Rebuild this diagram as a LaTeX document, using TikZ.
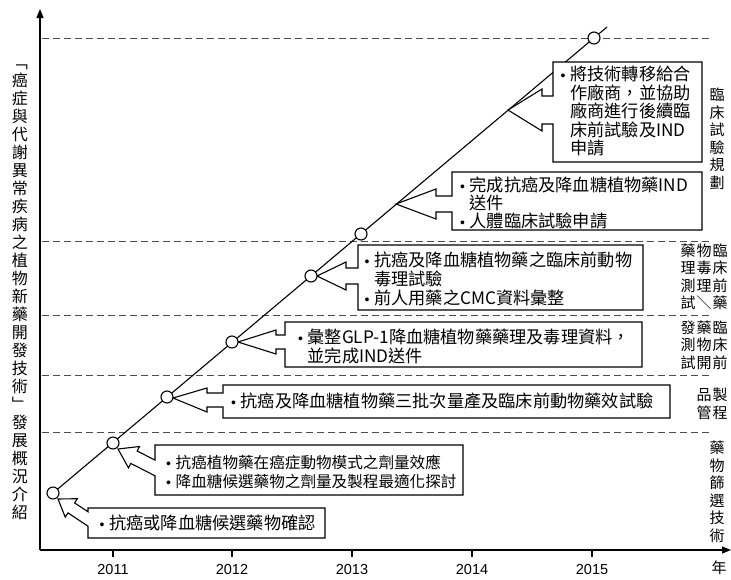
\documentclass[tikz,border=0pt]{standalone}
\usepackage{fontspec}
\newfontfamily\cjk{Noto Sans CJK TC}
\newfontfamily\lat{Liberation Sans}
\usetikzlibrary{arrows.meta}
\newcommand\bu{\makebox[9.5pt][l]{\lat\fontsize{14}{14}\selectfont •}}
\begin{document}
\begin{tikzpicture}[x=1pt,y=-1pt,
  axisline/.style={line width=1.2pt,-{Triangle[length=9pt,width=7pt]}},
  dashline/.style={line width=0.9pt,dash pattern=on 7pt off 4pt,gray!60!black},
  timeline/.style={line width=1.1pt},
  circ/.style={circle,draw,line width=1.1pt,fill=white,minimum size=12pt,inner sep=0pt},
  callout/.style={draw,line width=1.1pt,fill=white,line join=miter},
  txt/.style={font=\cjk\fontsize{17.2}{18.6}\selectfont,anchor=west,inner sep=0pt,text height=15.1pt,text depth=2.1pt},
  txts/.style={font=\cjk\fontsize{15.6}{17}\selectfont,anchor=west,inner sep=0pt,text height=13.7pt,text depth=1.9pt},
  lab/.style={font=\cjk\fontsize{15}{17.5}\selectfont,align=center,inner sep=0pt},
  yr/.style={font=\lat\fontsize{14.5}{14.5}\selectfont,inner sep=0pt},
]
\useasboundingbox (0,0) rectangle (731,579);

% axes
\coordinate (O) at (40,550);
\coordinate (ytop) at (40,9);
\coordinate (xend) at (731,550);
\draw[axisline] (O) -- (ytop);
\draw[axisline] (O) -- (xend);
\foreach \x/\yr in {113/2011,232/2012,352/2013,472/2014,592/2015}{
  \draw[line width=1.1pt] (\x,550) -- (\x,557);
  \node[yr] (y\yr) at (\x,569) {\yr};
}
\node[font=\cjk\fontsize{15}{15}\selectfont,inner sep=0pt] (nian) at (719,568) {年};

% dashed phase lines
\foreach \y in {38,241,315,375,432}{
  \draw[dashline] (42,\y) -- (712,\y);
}

% time line
\coordinate (c1) at (53,493);
\coordinate (c2) at (113,443);
\coordinate (c3) at (167,397);
\coordinate (c4) at (232,342);
\coordinate (c5) at (311,276);
\coordinate (c6) at (361,234);
\coordinate (c7) at (594,38);
\coordinate (lend) at (607,27);
\draw[timeline] (c1) -- (lend);

% callouts
% box 1
\draw[callout] (88,511.8) -- (88,508) -- (325,508) -- (325,538) -- (88,538) -- (88,526.2)
  -- (68,512.9) -- (65.2,517.1) -- (58,499) -- (77.4,498.7) -- (74.6,502.9) -- cycle;
% box 2
\draw[callout] (155,460.1) -- (155,445) -- (463,445) -- (463,495) -- (155,495) -- (155,475.8)
  -- (130.8,463.4) -- (128.5,467.9) -- (118,449) -- (139.5,446.5) -- (137.2,451) -- cycle;
% box 3
\draw[callout] (223,393) -- (223,385) -- (670,385) -- (670,418) -- (223,418) -- (223,407)
  -- (207,407) -- (207,412) -- (173,398) -- (207,388) -- (207,393) -- cycle;
% box 4
\draw[callout] (285,335) -- (285,322) -- (642,322) -- (642,367) -- (285,367) -- (285,349)
  -- (276,349) -- (276,354) -- (238,342) -- (276,330) -- (276,335) -- cycle;
% box 5
\draw[callout] (358,268) -- (358,245) -- (643,245) -- (643,310) -- (358,310) -- (358,284)
  -- (346,284) -- (346,290) -- (317,276) -- (346,262) -- (346,268) -- cycle;
% box 6
\draw[callout] (452,196) -- (452,172) -- (702,172) -- (702,230) -- (452,230) -- (452,212)
  -- (436,212) -- (436,219) -- (396,204) -- (436,189) -- (436,196) -- cycle;
% box 7
\draw[callout] (553,96) -- (553,62) -- (702,62) -- (702,162) -- (553,162) -- (553,124)
  -- (542,124) -- (542,131) -- (508,110) -- (542,89) -- (542,96) -- cycle;

% circles
\foreach \c in {c1,c2,c3,c4,c5,c6,c7}{
  \node[circ] (\c n) at (\c) {};
}

% texts
\node[txt] (t1) at (99.5,523) {\bu 抗癌或降血糖候選藥物確認};
\node[txts] (t2a) at (166,463) {\bu 抗癌植物藥在癌症動物模式之劑量效應};
\node[txts] (t2b) at (166,482) {\bu 降血糖候選藥物之劑量及製程最適化探討};
\node[txt] (t3) at (231,401) {\bu 抗癌及降血糖植物藥三批次量產及臨床前動物藥效試驗};
\node[txt] (t4a) at (298,337) {\bu 彙整GLP-1降血糖植物藥藥理及毒理資料，};
\node[txt] (t4b) at (307.5,355.5) {並完成IND送件};
\node[txt] (t5a) at (364.5,260) {\bu 抗癌及降血糖植物藥之臨床前動物};
\node[txt] (t5b) at (374,279) {毒理試驗};
\node[txt] (t5c) at (364.5,297.5) {\bu 前人用藥之CMC資料彙整};
\node[txt] (t6a) at (460,185) {\bu 完成抗癌及降血糖植物藥IND};
\node[txt] (t6b) at (469.5,203) {送件};
\node[txt] (t6c) at (460,221) {\bu 人體臨床試驗申請};
\node[txt] (t7a) at (560.5,74) {\bu 將技術轉移給合};
\node[txt] (t7b) at (570,92.5) {作廠商，並協助};
\node[txt] (t7c) at (570,111) {廠商進行後續臨};
\node[txt] (t7d) at (570,129.5) {床前試驗及IND};
\node[txt] (t7e) at (570,148) {申請};

% right-hand phase labels
\node[lab] (p1) at (717,139) {臨\\床\\試\\驗\\規\\劃};
\node[lab] (p2a) at (720,277) {臨\\床\\前\\藥};
\node[lab] (p2b) at (704,277) {物\\毒\\理\\＼};
\node[lab] (p2c) at (688,277) {藥\\理\\測\\試};
\node[lab] (p3a) at (720,345) {臨\\床\\前};
\node[lab] (p3b) at (704,345) {藥\\物\\開};
\node[lab] (p3c) at (688,345) {發\\測\\試};
\node[lab] (p4a) at (720,404) {製\\程};
\node[lab] (p4b) at (704,404) {品\\管};
\node[lab] (p5) at (717,492) {藥\\物\\篩\\選\\技\\術};

% left title
\node[font=\cjk\fontsize{16}{18}\selectfont,align=center,inner sep=0pt] (title) at (20,292)
 {﹁\\癌\\症\\與\\代\\謝\\異\\常\\疾\\病\\之\\植\\物\\新\\藥\\開\\發\\技\\術\\﹂\\發\\展\\概\\況\\介\\紹};
\end{tikzpicture}
\end{document}
